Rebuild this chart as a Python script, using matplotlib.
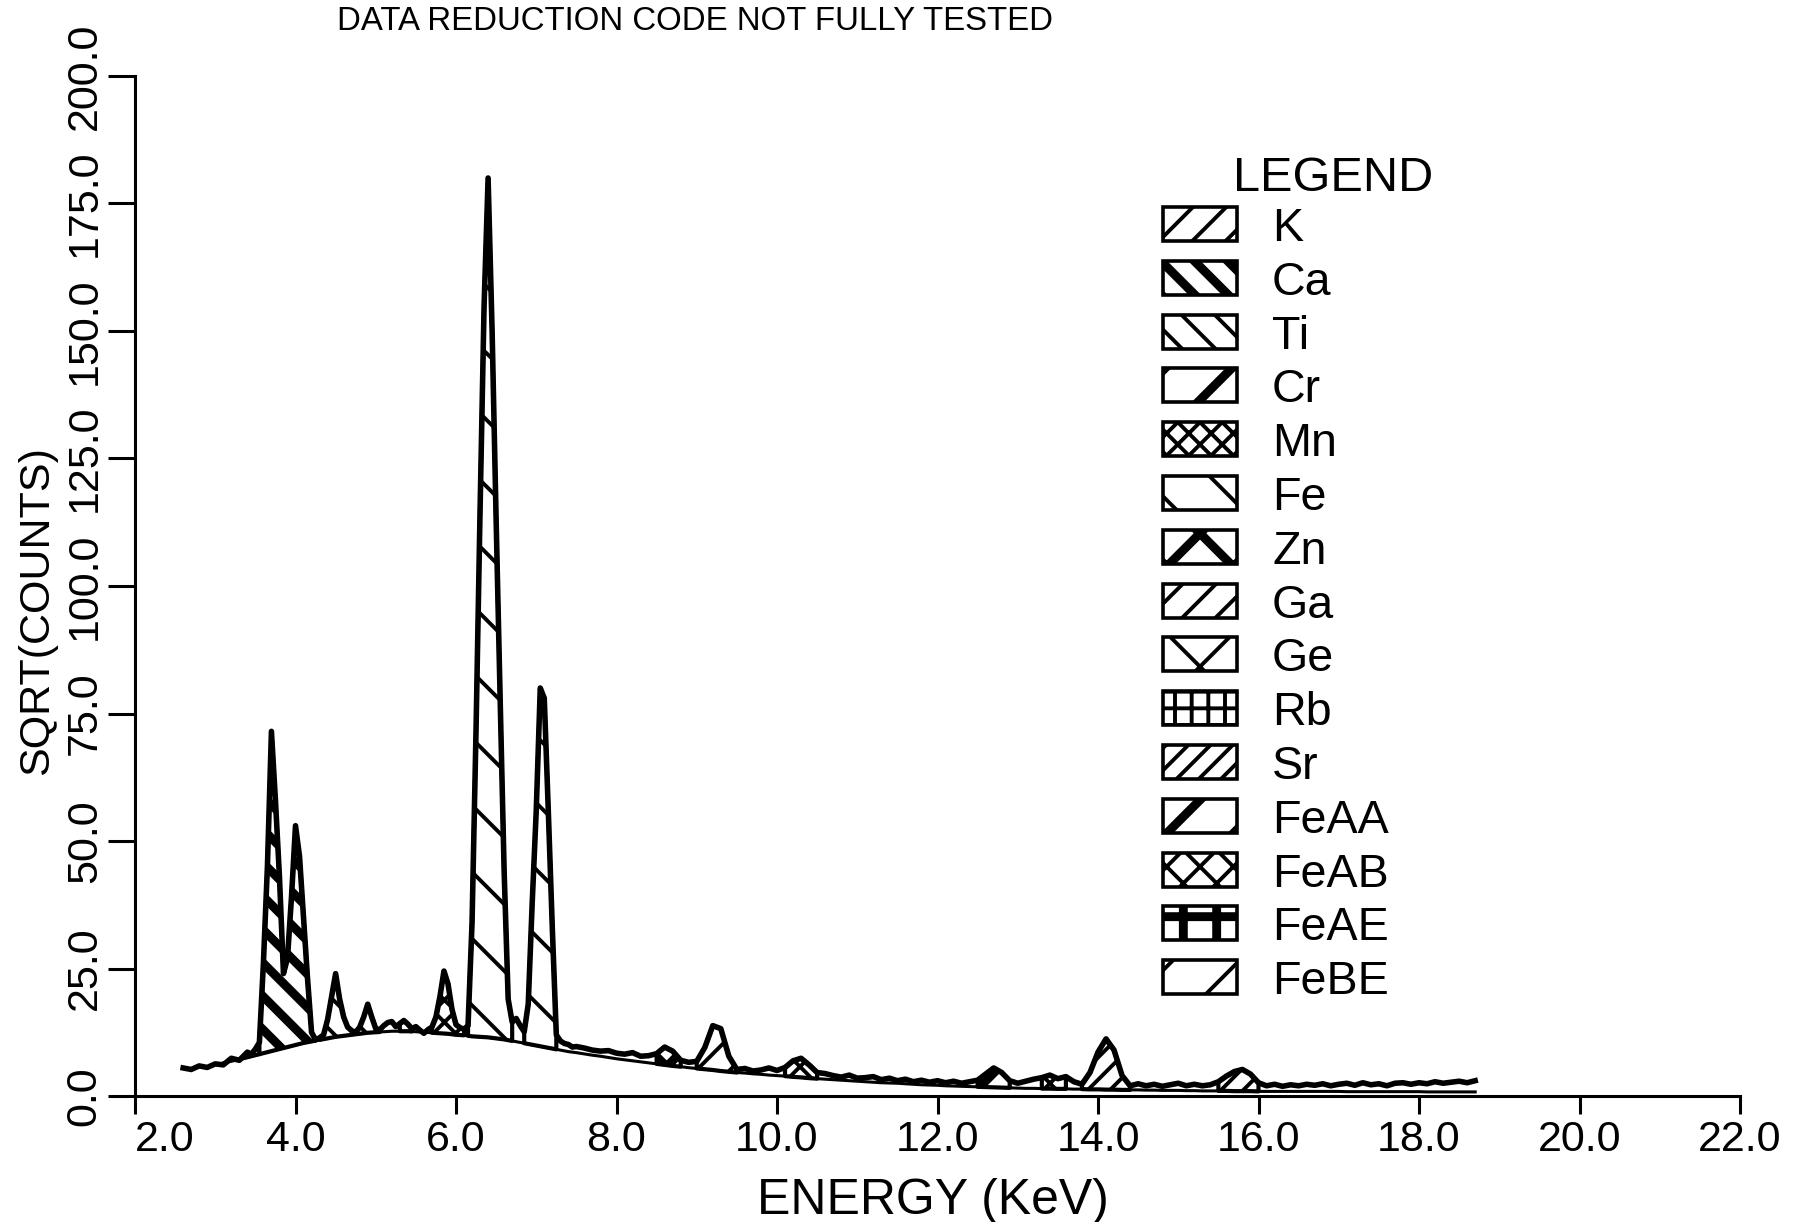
import matplotlib
matplotlib.use('Agg')
import matplotlib.pyplot as plt
from matplotlib.patches import Rectangle
import numpy as np

# x-ray spectrum
energy_kev = [
    2.6, 2.7, 2.8, 2.9, 3.0, 3.1, 3.2, 3.3, 3.4,
    3.45, 3.5, 3.55, 3.6, 3.65, 3.7, 3.75, 3.8, 3.85, 3.9,
    3.95, 4.0, 4.05, 4.1, 4.15, 4.2, 4.25, 4.3, 4.35, 4.4,
    4.45, 4.5, 4.55, 4.6, 4.65, 4.7, 4.75, 4.8, 4.85, 4.9,
    4.95, 5.0, 5.05, 5.1, 5.15, 5.2, 5.25, 5.3, 5.35, 5.4,
    5.45, 5.5, 5.55, 5.6, 5.65, 5.7, 5.75, 5.8, 5.85, 5.9,
    5.95, 6.0, 6.05, 6.1, 6.15, 6.2, 6.25, 6.3, 6.35, 6.4,
    6.45, 6.5, 6.55, 6.6, 6.65, 6.7, 6.75, 6.8, 6.85, 6.9,
    6.95, 7.0, 7.05, 7.1, 7.15, 7.2, 7.25, 7.3, 7.35, 7.4,
    7.45, 7.5,
    7.6, 7.7, 7.8, 7.9, 8.0, 8.1, 8.2, 8.3, 8.4, 8.5,
    8.6, 8.7, 8.8, 8.9, 9.0, 9.1, 9.2, 9.3, 9.4, 9.5,
    9.6, 9.7, 9.8, 9.9, 10.0, 10.1, 10.2, 10.3, 10.4, 10.5,
    10.6, 10.7, 10.8, 10.9, 11.0, 11.1, 11.2, 11.3, 11.4, 11.5,
    11.6, 11.7, 11.8, 11.9, 12.0, 12.1, 12.2, 12.3, 12.4, 12.5,
    12.6, 12.7, 12.8, 12.9, 13.0, 13.1, 13.2, 13.3, 13.4, 13.5,
    13.6, 13.7, 13.8, 13.9, 14.0, 14.1, 14.2, 14.3, 14.4, 14.5,
    14.6, 14.7, 14.8, 14.9, 15.0, 15.1, 15.2, 15.3, 15.4, 15.5,
    15.6, 15.7, 15.8, 15.9, 16.0, 16.1, 16.2, 16.3, 16.4, 16.5,
    16.6, 16.7, 16.8, 16.9, 17.0, 17.1, 17.2, 17.3, 17.4, 17.5,
    17.6, 17.7, 17.8, 17.9, 18.0, 18.1, 18.2, 18.3, 18.4, 18.5,
    18.6, 18.7]

sqrt_counts = [
    5.5, 5.2, 5.9, 5.6, 6.3, 6.1, 7.4, 7.0, 8.6,
    8.2, 9.2, 10.5, 26, 45, 71.5, 58, 43, 24, 27,
    39, 53, 47, 35, 23, 12.5, 11, 11.4, 12, 15,
    19.5, 24, 19, 15.5, 13.5, 12.8, 12.5, 13.5, 15.5, 18,
    15.5, 13.2, 13.0, 13.8, 14.4, 14.6, 13.6, 14.2, 14.8, 14.1,
    13.2, 13.6, 12.9, 12.3, 13.0, 13.5, 15.5, 19.5, 24.5, 22,
    17, 14, 13.4, 13.1, 13.8, 34, 72, 115, 155, 180,
    150, 113, 78, 44, 19, 14.5, 15.2, 13.8, 12.6, 18,
    38, 56, 80, 78, 56, 33, 12, 10.8, 10.3, 10.1,
    9.6, 9.7,
    9.4, 9.0, 8.8, 8.9, 8.4, 8.2, 8.5, 7.8, 7.9, 8.3,
    9.6, 8.8, 7.0, 6.6, 6.8, 9.5, 13.8, 13.2, 7.8, 5.2,
    5.4, 4.9, 5.1, 5.5, 5.0, 5.6, 6.9, 7.4, 6.1, 4.6,
    4.4, 4.0, 3.7, 4.1, 3.5, 3.6, 3.8, 3.2, 3.5, 3.0,
    3.3, 2.8, 3.1, 2.7, 3.0, 2.6, 2.9, 2.5, 2.8, 3.1,
    4.3, 5.5, 4.6, 3.0, 2.5, 2.9, 3.3, 3.6, 4.1, 3.4,
    3.8, 2.8, 2.3, 4.6, 8.6, 11.2, 9.0, 4.0, 2.0, 2.4,
    2.0, 2.3, 1.9, 2.2, 2.5, 2.0, 2.3, 2.0, 2.2, 2.8,
    3.9, 4.8, 5.2, 4.3, 2.6, 2.0, 2.3, 1.9, 2.2, 2.0,
    2.3, 2.1, 2.4, 2.0, 2.3, 2.5, 2.1, 2.6, 2.2, 2.4,
    2.0, 2.5, 2.6, 2.3, 2.6, 2.4, 2.8, 2.5, 2.7, 2.9,
    2.6, 3.0]

# fitted continuum under the peaks (not drawn below 3.1 keV)
continuum = [
    np.nan, np.nan, np.nan, np.nan, np.nan, 6.5, 6.8, 7.2, 7.6,
    7.8, 8.0, 8.2, 8.4, 8.6, 8.8, 9.0, 9.2, 9.4, 9.6,
    9.8, 10.0, 10.2, 10.4, 10.55, 10.7, 10.85, 11.0, 11.15, 11.3,
    11.45, 11.6, 11.7, 11.8, 11.9, 12.0, 12.1, 12.2, 12.3, 12.4,
    12.45, 12.5, 12.55, 12.6, 12.65, 12.7, 12.7, 12.7, 12.7, 12.7,
    12.65, 12.6, 12.55, 12.5, 12.45, 12.4, 12.35, 12.3, 12.25, 12.2,
    12.1, 12.0, 11.95, 11.9, 11.8, 11.7, 11.65, 11.6, 11.55, 11.5,
    11.4, 11.3, 11.2, 11.1, 10.95, 10.8, 10.65, 10.5, 10.35, 10.2,
    10.05, 9.9, 9.75, 9.6, 9.45, 9.3, 9.15, 9.0, 8.85, 8.7,
    8.6, 8.5,
    8.25, 8.0, 7.8, 7.55, 7.3, 7.1, 6.9, 6.7, 6.5, 6.3,
    6.1, 5.9, 5.75, 5.55, 5.4, 5.25, 5.1, 4.9, 4.75, 4.6,
    4.5, 4.35, 4.25, 4.1, 4.0, 3.9, 3.75, 3.65, 3.5, 3.4,
    3.3, 3.2, 3.1, 3.0, 2.9, 2.8, 2.7, 2.6, 2.55, 2.5,
    2.4, 2.3, 2.2, 2.15, 2.1, 2.0, 1.95, 1.9, 1.85, 1.8,
    1.75, 1.7, 1.65, 1.6, 1.55, 1.5, 1.5, 1.45, 1.45, 1.4,
    1.4, 1.35, 1.35, 1.3, 1.3, 1.25, 1.25, 1.2, 1.2, 1.2,
    1.15, 1.15, 1.1, 1.1, 1.1, 1.05, 1.05, 1.0, 1.0, 1.0,
    1.0, 0.95, 0.95, 0.95, 0.9, 0.9, 0.9, 0.9, 0.9, 0.9,
    0.9, 0.9, 0.9, 0.9, 0.9, 0.85, 0.85, 0.85, 0.85, 0.85,
    0.85, 0.85, 0.85, 0.85, 0.85, 0.8, 0.8, 0.8, 0.8, 0.8,
    0.8, 0.8]

# fitted peak windows (element, keV range)
peak_element = ['K', 'Ca', 'Ti', 'Cr', 'Mn', 'Fe', 'Fe', 'Zn', 'Ga', 'Ge',
                'FeAA', 'FeAB', 'Sr', 'Sr']
peak_lo = [3.3, 3.55, 4.3, 5.3, 5.7, 6.15, 6.85, 8.5, 9.0, 10.1,
           12.5, 13.3, 13.8, 15.5]
peak_hi = [3.55, 4.25, 5.05, 5.45, 6.1, 6.7, 7.25, 8.8, 9.5, 10.5,
           12.9, 13.6, 14.4, 16.0]

legend_elements = ['K', 'Ca', 'Ti', 'Cr', 'Mn', 'Fe', 'Zn', 'Ga', 'Ge', 'Rb',
                   'Sr', 'FeAA', 'FeAB', 'FeAE', 'FeBE']
legend_hatch = ['//', '\\\\', '\\\\', '/', 'xxx', '\\', 'x', '//', 'x', '++',
                '///', '/', 'xx', '+', '/']
legend_heavy = [False, True, False, True, False, False, True, False, False,
                False, False, True, False, True, False]

x_ticks = [2, 4, 6, 8, 10, 12, 14, 16, 18, 20, 22]
y_ticks = [0, 25, 50, 75, 100, 125, 150, 175, 200]

W, H = 1802, 1222
plt.rcParams['font.family'] = ['Liberation Sans', 'DejaVu Sans']
plt.rcParams['hatch.color'] = 'black'

fig = plt.figure(figsize=(W / 200, H / 200), dpi=200)
ax = fig.add_axes([135 / W, 1 - 1096 / H, 1605 / W, 1020 / H])

e = np.array(energy_kev)
y = np.array(sqrt_counts)
bg = np.array(continuum)


def hatched(make, hatch, heavy):
    # hatch width is taken from rcParams when the artist is built
    lw = 3.2 if heavy else 1.4
    with plt.rc_context({'hatch.linewidth': lw}):
        art = make()
    art.set_hatch(hatch)
    if hasattr(art, 'set_hatch_linewidth'):
        art.set_hatch_linewidth(lw)
    return art


# peaks, hatched between the data and the continuum
for name, lo, hi in zip(peak_element, peak_lo, peak_hi):
    k = legend_elements.index(name)
    sel = (e >= lo - 1e-6) & (e <= hi + 1e-6)
    hatched(lambda: ax.fill_between(e, bg, y, where=sel, facecolor='white',
                                    edgecolor='black', linewidth=1.5,
                                    zorder=2),
            legend_hatch[k], legend_heavy[k])

ax.plot(e, bg, color='black', lw=1.1, zorder=1.5)
ax.plot(e, y, color='black', lw=2.0, zorder=3)

ax.set_xlim(2, 22)
ax.set_ylim(0, 200)
for side in ['top', 'right']:
    ax.spines[side].set_visible(False)
for side in ['left', 'bottom']:
    ax.spines[side].set_linewidth(1.1)

ax.set_xticks(x_ticks)
ax.set_xticklabels([f'{v:.1f}' for v in x_ticks])
ax.get_xticklabels()[0].set_horizontalalignment('left')
ax.set_yticks(y_ticks)
ax.set_yticklabels([f'{v:.1f}' for v in y_ticks], rotation=90,
                   va='center')
ax.tick_params(axis='x', length=6.5, width=1.1, pad=2, labelsize=15.5)
ax.tick_params(axis='y', length=9.7, width=1.1, pad=1.2, labelsize=15.5)

ax.set_xlabel('ENERGY (KeV)', fontsize=18)
ax.xaxis.set_label_coords(0.497, -0.080)
ax.set_ylabel('SQRT(COUNTS)', fontsize=15.5)
ax.yaxis.set_label_coords(-0.0486, 0.476)

fig.text(695 / W, 1 - 21 / H, 'DATA REDUCTION CODE NOT FULLY TESTED',
         ha='center', va='center', fontsize=11.9)

# legend drawn in pixel coordinates
lg = fig.add_axes([0, 0, 1, 1])
lg.set_xlim(0, W)
lg.set_ylim(H, 0)
lg.axis('off')
lg.text(1233, 191, 'LEGEND', fontsize=17.5, ha='left', va='baseline')
for i, name in enumerate(legend_elements):
    yc = 224 + i * 53.8
    hatched(lambda: lg.add_patch(Rectangle((1163, yc - 17), 74, 34,
                                           facecolor='white',
                                           edgecolor='black', lw=1.3)),
            legend_hatch[i], legend_heavy[i])
    lg.text(1272, yc + 17, name, fontsize=16.8, ha='left', va='baseline')

fig.savefig('out.png', dpi=200)
